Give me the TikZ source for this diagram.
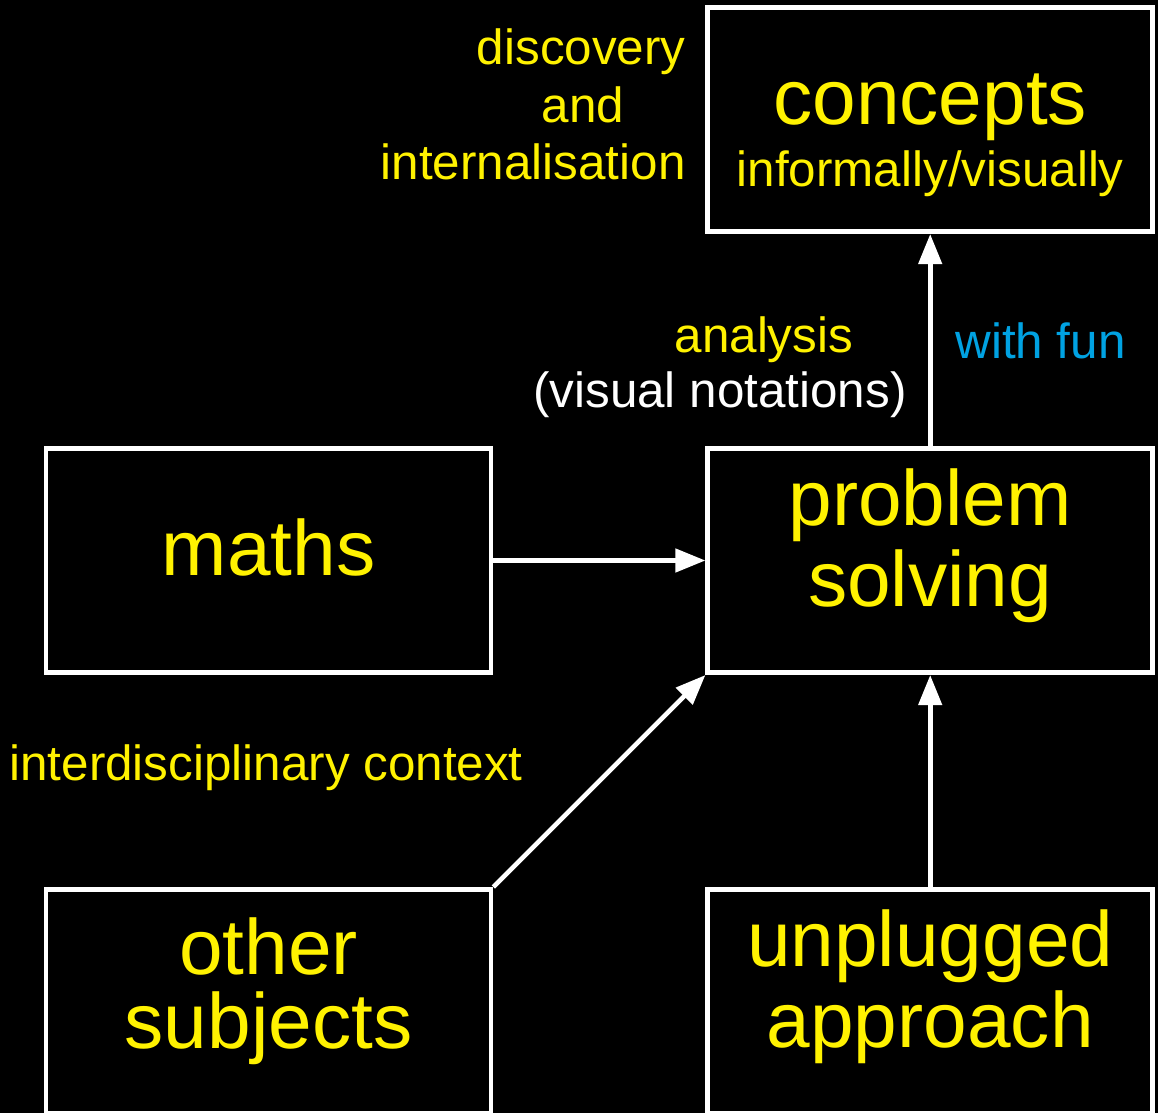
\documentclass[tikz,border=0pt]{standalone}
\usepackage{fontspec}
\setmainfont{Liberation Sans}
\usetikzlibrary{positioning, arrows.meta}

\definecolor{textyellow}{RGB}{255,242,0}
\definecolor{funblue}{RGB}{0,162,226}
\newcommand{\boxfont}{\fontsize{39.2pt}{40.5pt}\selectfont}
\newcommand{\notefont}{\fontsize{24.7pt}{28.8pt}\selectfont}

\begin{document}
\begin{tikzpicture}[
    box/.style={draw=white, fill=black, line width=2.3pt, rectangle, minimum width=222.5pt, minimum height=112.25pt, inner sep=0pt, align=center, text=textyellow, font=\boxfont},
    note/.style={inner sep=0pt, text=textyellow, font=\notefont},
    arrow/.style={-{Triangle[length=15pt, width=11.5pt]}, draw=white, line width=2.3pt},
    node distance=220.5pt and 330.85pt, on grid
]

% Background
\fill[black] (0,0) rectangle (579pt,-556.5pt);
\useasboundingbox (0,0) rectangle (579pt,-556.5pt);

% Concepts
\node[box, font=\fontsize{24.7pt}{30.85pt}\selectfont, text height=67.2pt, text depth=0pt] (concepts) at (465.1pt,-59.75pt) {{\boxfont concepts}\\informally/visually};

% Problem solving
\node[box, below=of concepts, text height=46.2pt, text depth=0pt] (problem) {problem\\solving};

% Maths
\node[box, left=of problem, text height=15.2pt, text depth=0pt] (maths) {maths};

% Bottom row
\node[box, below=of problem, text height=46pt, text depth=0pt] (unplugged) {unplugged\\approach};
\node[box, left=of unplugged, font=\fontsize{39.2pt}{37pt}\selectfont, text height=47.2pt, text depth=0pt] (other) {other\\subjects};

% Notes
\node[note, align=right, anchor=north east] (discovery) at (343pt,-14.25pt) {discovery\\and\rule{30.8pt}{0pt}\\internalisation};
\node[note, align=right, anchor=north east, font=\fontsize{24.7pt}{27.5pt}\selectfont] (analysis) at (453.5pt,-158.35pt) {analysis\rule{26.75pt}{0pt}\\\textcolor{white}{(visual notations)}};
\node[note, text=funblue, anchor=base west] (fun) at (477.5pt,-179pt) {with fun};
\node[note, anchor=base west] (context) at (4.5pt,-390pt) {interdisciplinary context};

% Arrows
\draw[arrow] (problem) -- (concepts);
\draw[arrow] (maths) -- (problem);
\draw[arrow] (other.north east) -- (problem.south west);
\draw[arrow] (unplugged) -- (problem);

\end{tikzpicture}
\end{document}
